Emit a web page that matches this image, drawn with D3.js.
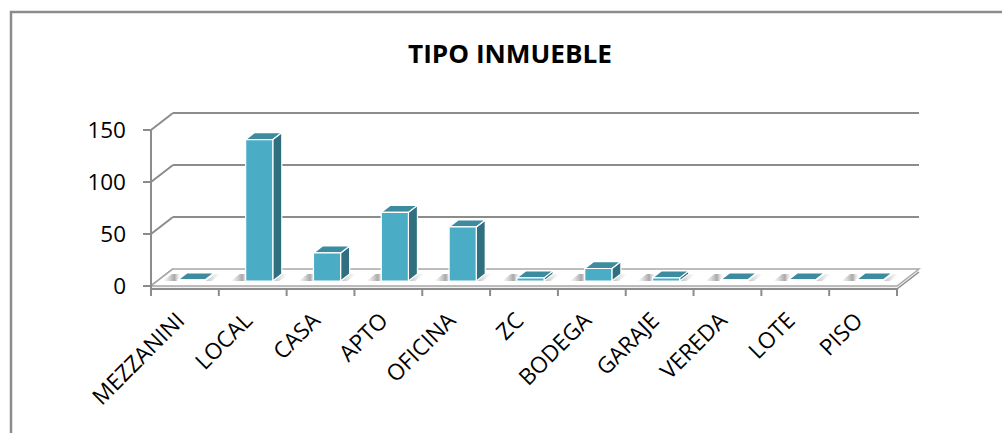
<!DOCTYPE html>
<html><head><meta charset="utf-8">
<script src="https://cdn.jsdelivr.net/npm/d3@7"></script>
<style>html,body{margin:0;padding:0;background:#fff;overflow:hidden}</style>
</head><body>
<svg id="c" width="1002" height="433"></svg>
<script>
const title = "TIPO INMUEBLE";
const categories = ["MEZZANINI","LOCAL","CASA","APTO","OFICINA","ZC","BODEGA","GARAJE","VEREDA","LOTE","PISO"];
const values = [1,136,27,66,52,3,12,3,1,1,1];
const yTicks = [0,50,100,150];

const svg = d3.select("#c");
const W = 1002, H = 433;
const gridColor = "#8c8c8c";
const font = "'Open Sans', sans-serif";

// outer frame
svg.append("rect").attr("x",11).attr("y",12).attr("width",W).attr("height",H)
  .attr("fill","#fff").attr("stroke",gridColor).attr("stroke-width",2.5);

svg.append("text").attr("x",510).attr("y",63).attr("text-anchor","middle")
  .attr("font-family",font).attr("font-weight","bold").attr("font-size",25)
  .attr("textLength",204).attr("lengthAdjust","spacingAndGlyphs")
  .attr("fill","#000").text(title);

const x0 = 151, x1 = 897;
const DX = 22, DY = -17;
const x = d3.scaleBand().domain(categories).range([x0,x1]).paddingInner(0.6).paddingOuter(0.3);
const y = d3.scaleLinear().domain([0,150]).range([286,130]);
const step = (x1-x0)/categories.length;
const P = (px,py,d)=>[px+DX*d, py+DY*d];
const poly = pts => pts.map(p=>p.join(",")).join(" ");

const g = svg.append("g");
// left wall diagonals and back gridlines
yTicks.forEach(t=>{
  const f = [x0, y(t)], b = P(x0, y(t), 1);
  g.append("line").attr("x1",f[0]).attr("y1",f[1]).attr("x2",b[0]).attr("y2",b[1])
    .attr("stroke",gridColor).attr("stroke-width",2);
  if (t>0) g.append("line").attr("x1",b[0]).attr("y1",b[1]).attr("x2",x1+DX).attr("y2",b[1])
    .attr("stroke",gridColor).attr("stroke-width",2);
});

// floor
const y0 = y(0), th = 3;
g.append("polygon").attr("points",poly([[x0,y0+th],[x1,y0+th],P(x1,y0+th,1),P(x1,y0,1),P(x0,y0,1),[x0,y0]]))
  .attr("fill","#f2f2f2").attr("stroke","none");
g.append("polygon").attr("points",poly([[x0,y0],[x1,y0],P(x1,y0,1),P(x0,y0,1)]))
  .attr("fill","#fff").attr("stroke","#a8a8a8").attr("stroke-width",1.4);
g.append("line").attr("x1",x0).attr("y1",y0+th).attr("x2",x1).attr("y2",y0+th)
  .attr("stroke",gridColor).attr("stroke-width",2);
g.append("line").attr("x1",x1).attr("y1",y0+th).attr("x2",P(x1,y0+th,1)[0]).attr("y2",P(x1,y0+th,1)[1])
  .attr("stroke",gridColor).attr("stroke-width",1.5);

// shadows on floor
const defs = svg.append("defs");
const gr = defs.append("linearGradient").attr("id","sh").attr("x1","0").attr("x2","1").attr("y1","0").attr("y2","0");
[[0,"#bdbdbd",0],[0.2,"#a8a8a8",1],[0.33,"#ffffff",0],[0.55,"#ffffff",0],[0.62,"#8f8f8f",1],[1,"#c8c8c8",0]]
  .forEach(s=>gr.append("stop").attr("offset",s[0]).attr("stop-color",s[1]).attr("stop-opacity",s[2]));
const df = 0.295, db = 0.705;
const bw = x.bandwidth();
categories.forEach((c,i)=>{
  const xl = x(c) - bw*0.55, xr = x(c) + bw*1.25;
  g.append("polygon").attr("points",poly([P(xl,y0,df),P(xr,y0,df),P(xr,y0,db),P(xl,y0,db)]))
    .attr("fill","url(#sh)");
});

// axis line + ticks
g.append("line").attr("x1",x0).attr("y1",y(150)).attr("x2",x0).attr("y2",y0+th)
  .attr("stroke",gridColor).attr("stroke-width",2);
yTicks.forEach(t=>{
  g.append("line").attr("x1",x0-8).attr("y1",y(t)).attr("x2",x0).attr("y2",y(t))
    .attr("stroke",gridColor).attr("stroke-width",2);
  g.append("text").attr("x",126).attr("y",y(t)).attr("dy","0.36em").attr("text-anchor","end")
    .attr("font-family",font).attr("font-size",22.5).attr("fill","#000").text(t);
});
for (let i=0;i<=categories.length;i++){
  const tx = x0 + i*step;
  g.append("line").attr("x1",tx).attr("y1",y0+th).attr("x2",tx).attr("y2",y0+th+7)
    .attr("stroke",gridColor).attr("stroke-width",2);
}

// bars
const cFront = "#4bacc6", cSide = "#2f6f80", cTop = "#3d8b9f";
categories.forEach((c,i)=>{
  const v = values[i];
  const xl = x(c), xr = x(c)+bw, yt = y(v);
  const bg = g.append("g").attr("stroke","#fff").attr("stroke-width",1.2).attr("stroke-linejoin","round");
  bg.append("polygon").attr("points",poly([P(xr,yt,df),P(xr,yt,db),P(xr,y0,db),P(xr,y0,df)])).attr("fill",cSide);
  bg.append("polygon").attr("points",poly([P(xl,yt,df),P(xr,yt,df),P(xr,yt,db),P(xl,yt,db)])).attr("fill",cTop);
  const fl = P(xl,yt,df), fb = P(xl,y0,df);
  bg.append("rect").attr("x",fl[0]).attr("y",fl[1]).attr("width",bw).attr("height",Math.max(0,fb[1]-fl[1])).attr("fill",cFront);
});

// category labels
categories.forEach((c,i)=>{
  const cx = x0 + (i+0.5)*step + 1, cy = 322;
  g.append("text").attr("transform",`translate(${cx},${cy}) rotate(-45)`)
    .attr("text-anchor","end").attr("font-family",font).attr("font-size",22.5)
    .attr("fill","#000").text(c);
});
</script>
</body></html>
